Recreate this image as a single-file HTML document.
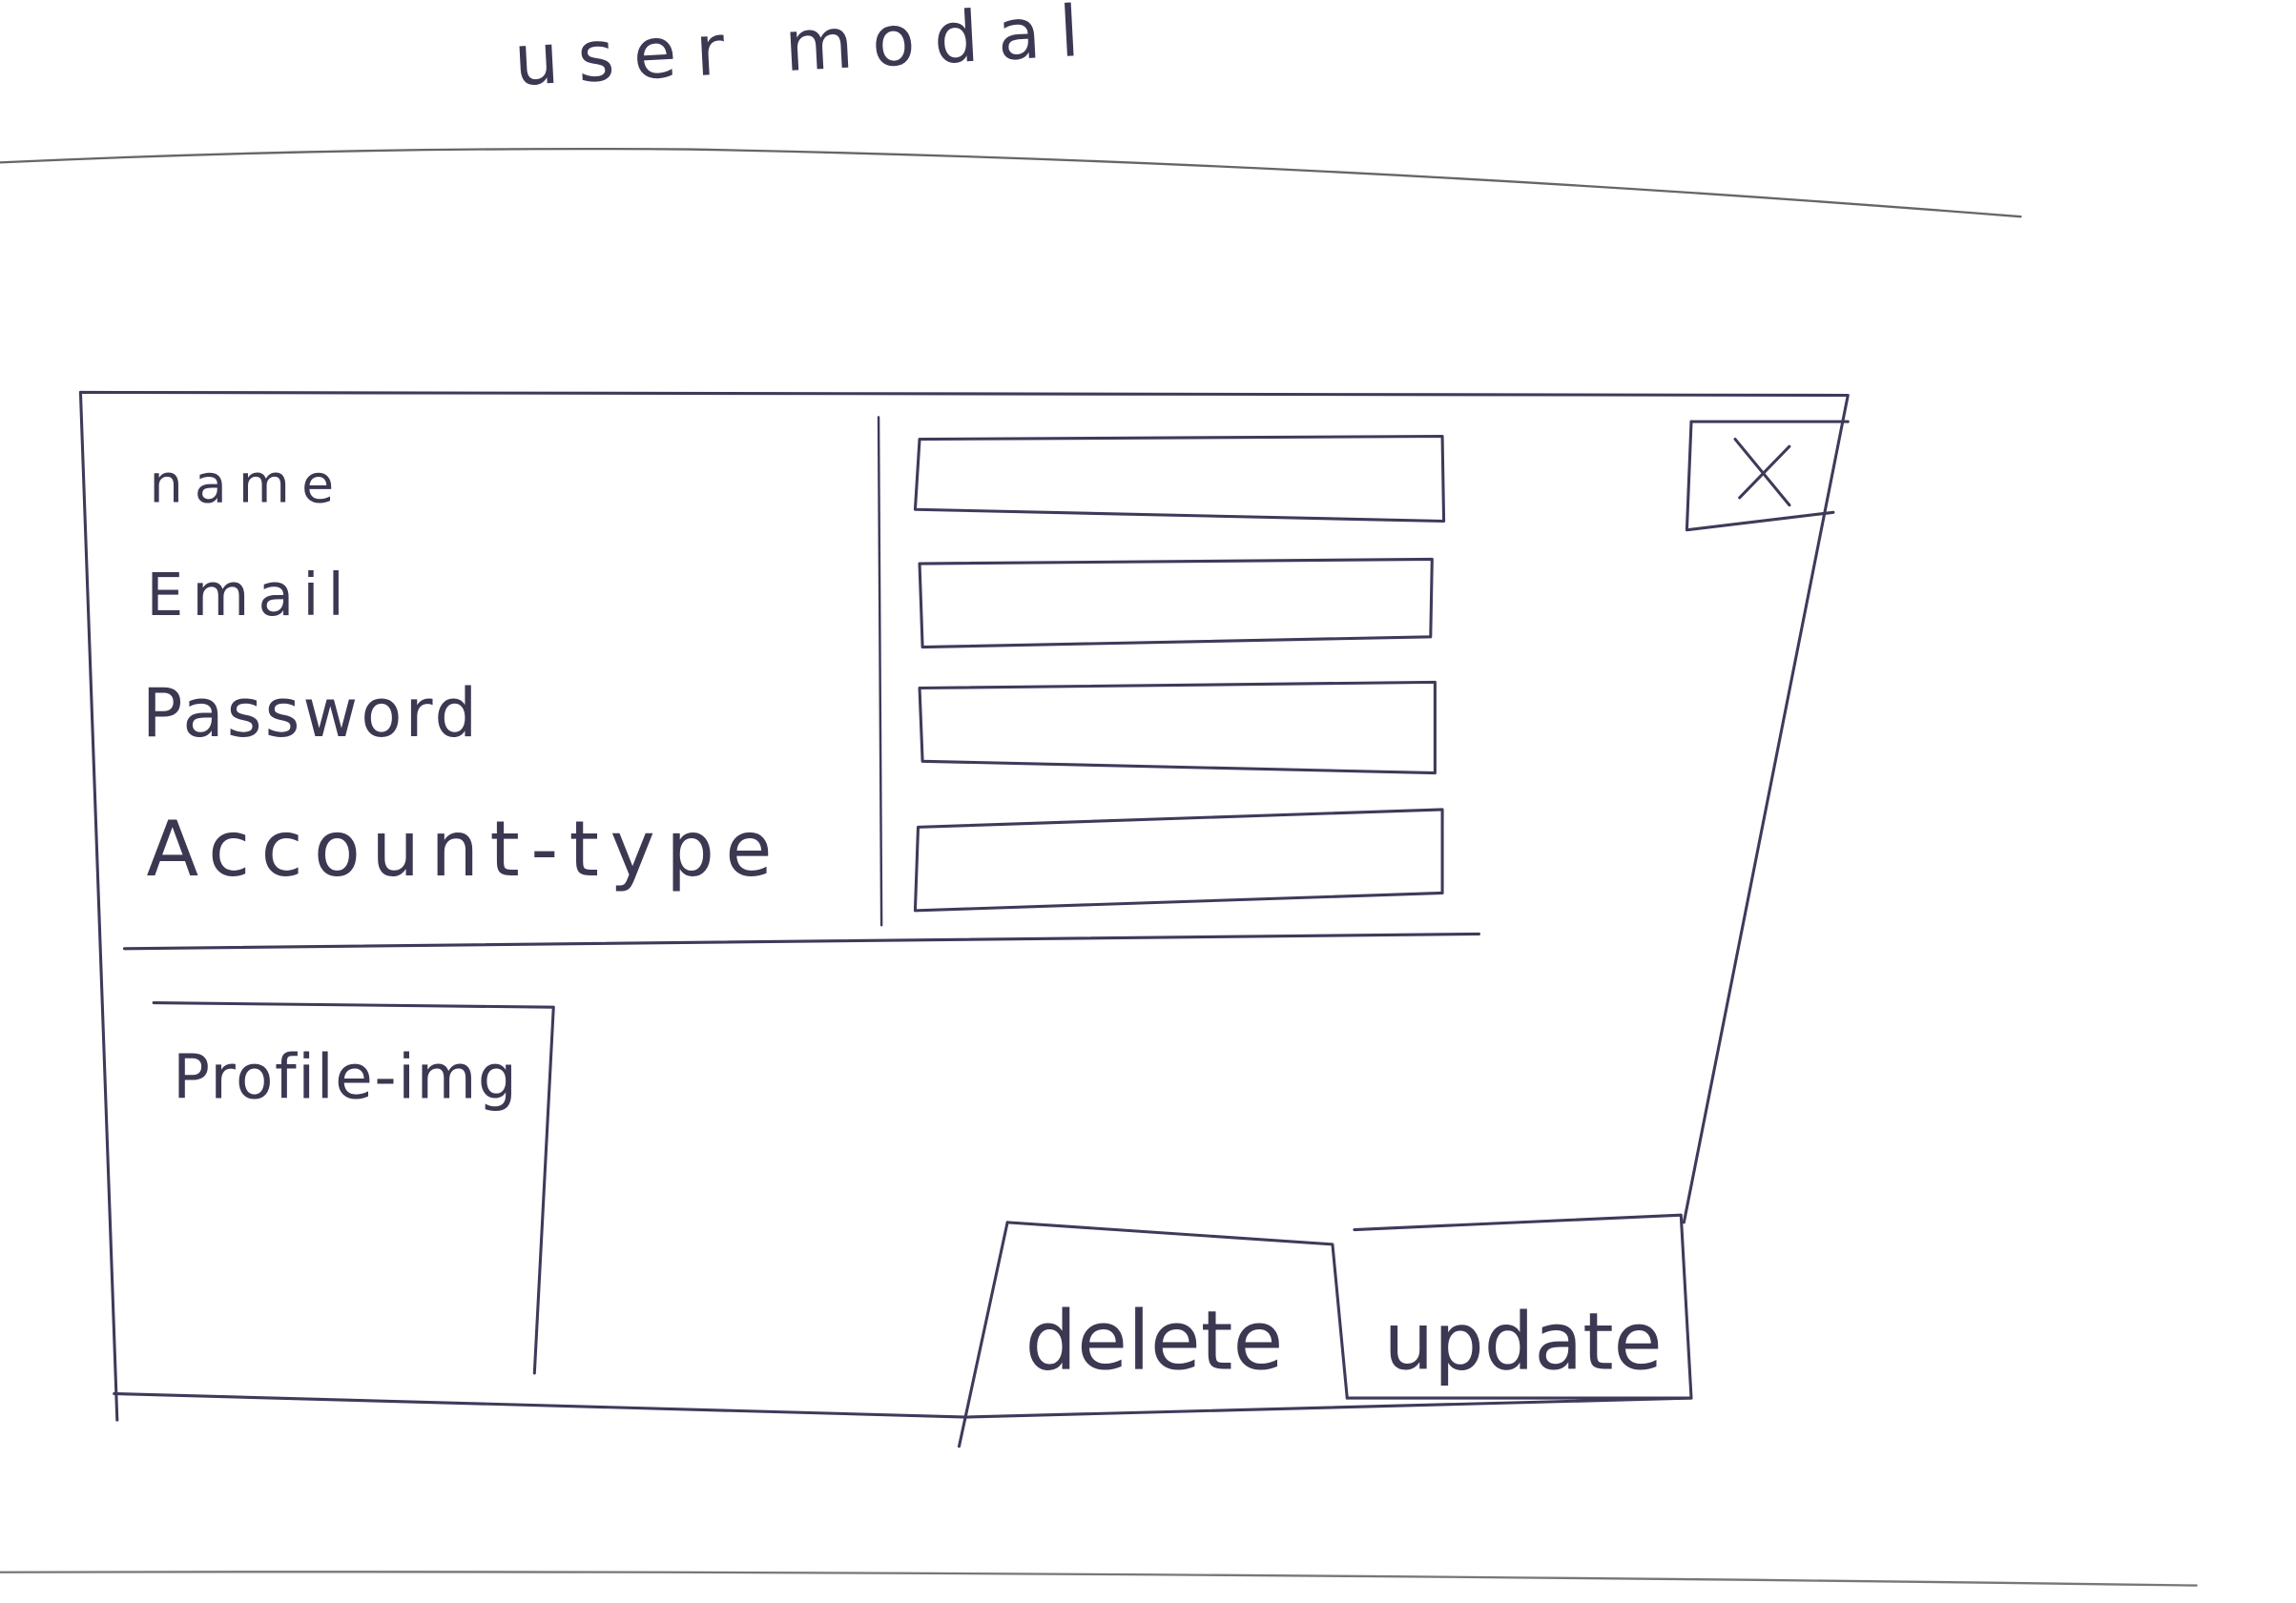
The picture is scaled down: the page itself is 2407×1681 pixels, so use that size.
<!DOCTYPE html>
<html><head><meta charset="utf-8"><style>
html,body{margin:0;padding:0;background:#fff;}
svg{display:block;}
text{font-family:"DejaVu Sans","Liberation Sans",sans-serif;fill:#3c3852;font-weight:normal;}
</style></head><body>
<svg width="2407" height="1681" viewBox="0 0 1568 1095" preserveAspectRatio="none" xmlns="http://www.w3.org/2000/svg">
<g fill="none" stroke="#3f3a5a" stroke-width="2" stroke-linecap="round" stroke-linejoin="round">
<path d="M0 111 Q240 100 470 102 Q900 110 1380 148" stroke="#666" stroke-width="1.5"/>
<path d="M0 1074 Q700 1072 1500 1083" stroke="#777" stroke-width="1.5"/>
<path d="M55 268 L1262 270 L1150 835"/>
<path d="M55 268 L80 970"/>
<path d="M78 952 L660 968 L1155 955"/>
<path d="M688 835 L910 850 L920 955"/>
<path d="M688 835 L655 988"/>
<path d="M925 840 L1148 830 L1155 955 L920 955"/>
<path d="M1155 288 L1262 288"/>
<path d="M1155 288 L1152 362 L1252 350"/>
<path d="M1185 300 L1222 345 M1222 305 L1188 340"/>
<path d="M85 648 L1010 638"/>
<path d="M600 285 L602 632" stroke-width="1.6"/>
<path d="M628 300 L985 298 L986 356 L625 348 Z"/>
<path d="M628 385 L978 382 L977 435 L630 442 Z"/>
<path d="M628 470 L980 466 L980 528 L630 520 Z"/>
<path d="M627 565 L985 553 L985 610 L625 622 Z"/>
<path d="M105 685 L378 688 L365 938"/>
</g>
<text x="352" y="58" font-size="48" letter-spacing="13" transform="rotate(-3 352 58)">user modal</text>
<text x="102" y="343" font-size="36" letter-spacing="8">name</text>
<text x="100" y="420" font-size="40" letter-spacing="6">Email</text>
<text x="97" y="503" font-size="46" letter-spacing="2">Password</text>
<text x="100" y="598" font-size="52" letter-spacing="7.5">Account-type</text>
<text x="118" y="750" font-size="42" letter-spacing="1">Profile-img</text>
<text x="700" y="935" font-size="56">delete</text>
<text x="945" y="935" font-size="54">update</text>
</svg>
</body></html>
